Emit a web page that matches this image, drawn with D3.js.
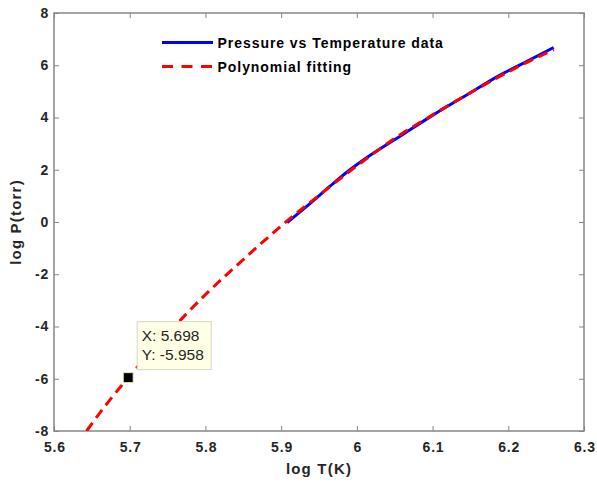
<!DOCTYPE html>
<html><head><meta charset="utf-8">
<script src="https://cdn.jsdelivr.net/npm/d3@7"></script>
<style>body{margin:0;background:#fff}svg{display:block}</style>
</head><body>
<script>
const dataX = [5.908, 5.94, 5.965, 5.99, 6.01, 6.057, 6.101, 6.145, 6.189, 6.224, 6.26];
const dataY = [-0.02, 0.75, 1.38, 1.98, 2.40, 3.28, 4.10, 4.86, 5.62, 6.14, 6.68];
const fitX = [5.643, 5.67, 5.70, 5.75, 5.80, 5.85, 5.90, 5.95, 6.00, 6.05, 6.10, 6.15, 6.20, 6.26];
const fitY = [-8.0, -6.95, -5.89, -4.28, -2.78, -1.44, -0.15, 1.02, 2.15, 3.2, 4.1, 4.95, 5.75, 6.6];
const xTicks = [5.6, 5.7, 5.8, 5.9, 6, 6.1, 6.2, 6.3];
const yTicks = [-8, -6, -4, -2, 0, 2, 4, 6, 8];
const tip = {x: 5.698, y: -5.958};
const legendLabels = ["Pressure vs Temperature data", "Polynomial fitting"];

const W = 597, H = 483;
const m = {l: 54, r: 13, t: 13, b: 52};
const svg = d3.select("body").append("svg").attr("width", W).attr("height", H);
const x = d3.scaleLinear().domain([5.6, 6.3]).range([m.l, W - m.r]);
const y = d3.scaleLinear().domain([-8, 8]).range([H - m.b, m.t]);
const font = "'Liberation Sans', Arial, sans-serif";
const axisCol = "#868686";
const fmt = d => String(d);

svg.append("defs").append("clipPath").attr("id", "clip")
  .append("rect").attr("x", m.l).attr("y", m.t).attr("width", W - m.l - m.r).attr("height", H - m.t - m.b);

function styleAxis(g, labels) {
  g.select(".domain").remove();
  g.selectAll(".tick line").attr("stroke", axisCol);
  g.selectAll(".tick text").attr("fill", labels ? "#262626" : "none")
    .style("font-family", font).style("font-size", "14px").style("font-weight", "bold")
    .style("letter-spacing", "0.8px");
}
const ax = svg.append("g").attr("transform", `translate(0,${H - m.b})`)
  .call(d3.axisBottom(x).tickValues(xTicks).tickSize(-5).tickPadding(11).tickFormat(fmt));
styleAxis(ax, true);
ax.selectAll(".tick text").attr("dx", "0.4px");
const axT = svg.append("g").attr("transform", `translate(0,${m.t})`)
  .call(d3.axisTop(x).tickValues(xTicks).tickSize(-5).tickFormat(""));
styleAxis(axT, false);
const ay = svg.append("g").attr("transform", `translate(${m.l},0)`)
  .call(d3.axisLeft(y).tickValues(yTicks).tickSize(-5).tickPadding(5).tickFormat(fmt));
styleAxis(ay, true);
const ayR = svg.append("g").attr("transform", `translate(${W - m.r},0)`)
  .call(d3.axisRight(y).tickValues(yTicks).tickSize(-5).tickFormat(""));
styleAxis(ayR, false);
svg.append("rect").attr("x", m.l).attr("y", m.t).attr("width", W - m.l - m.r).attr("height", H - m.t - m.b)
  .attr("fill", "none").attr("stroke", axisCol).attr("stroke-width", 1.5);

const line = d3.line().x(d => x(d[0])).y(d => y(d[1])).curve(d3.curveMonotoneX);
const plot = svg.append("g").attr("clip-path", "url(#clip)");
plot.append("path").datum(dataX.map((v, i) => [v, dataY[i]])).attr("d", line)
  .attr("fill", "none").attr("stroke", "#0000ff").attr("stroke-width", 3);
plot.append("path").datum(fitX.map((v, i) => [v, fitY[i]])).attr("d", line)
  .attr("fill", "none").attr("stroke", "#ff0000").attr("stroke-width", 3).attr("stroke-dasharray", "10,6");

// datatip marker
plot.append("rect").attr("x", x(tip.x) - 5).attr("y", y(tip.y) - 5).attr("width", 10).attr("height", 10)
  .attr("fill", "#000").attr("stroke", "#f0eec0").attr("stroke-width", 1);
const tg = svg.append("g").attr("transform", `translate(${x(tip.x) + 9},${y(tip.y) - 56})`);
tg.append("rect").attr("width", 74).attr("height", 48).attr("fill", "#ffffe6").attr("stroke", "#d6d6c2");
tg.selectAll("text").data([`X: ${tip.x}`, `Y: ${tip.y}`]).join("text")
  .attr("x", 4.5).attr("y", (d, i) => 19.5 + i * 19).text(d => d)
  .style("font-family", font).style("font-size", "15.5px").attr("fill", "#262626");

// legend
const lg = svg.append("g").attr("transform", "translate(162,42.5)");
const styles = [{c: "#0000ff", d: null}, {c: "#ff0000", d: "11,8.5"}];
legendLabels.forEach((t, i) => {
  lg.append("line").attr("x1", 0).attr("x2", 51).attr("y1", i * 24).attr("y2", i * 24)
    .attr("stroke", styles[i].c).attr("stroke-width", 3).attr("stroke-dasharray", styles[i].d);
  lg.append("text").attr("x", 55.5).attr("y", i * 24 + 5).text(t)
    .style("font-family", font).style("font-size", "14px").style("font-weight", "bold")
    .style("letter-spacing", "0.95px").attr("fill", "#000");
});

// axis labels
svg.append("text").attr("x", x(5.95)).attr("y", 474).attr("text-anchor", "middle").text("log T(K)")
  .style("font-family", font).style("font-size", "15px").style("font-weight", "bold")
  .style("letter-spacing", "1.2px").attr("fill", "#262626");
svg.append("text").attr("transform", `translate(21,${y(0)}) rotate(-90)`).attr("text-anchor", "middle").text("log P(torr)")
  .style("font-family", font).style("font-size", "15px").style("font-weight", "bold")
  .style("letter-spacing", "1.2px").attr("fill", "#262626");
</script>
</body></html>
